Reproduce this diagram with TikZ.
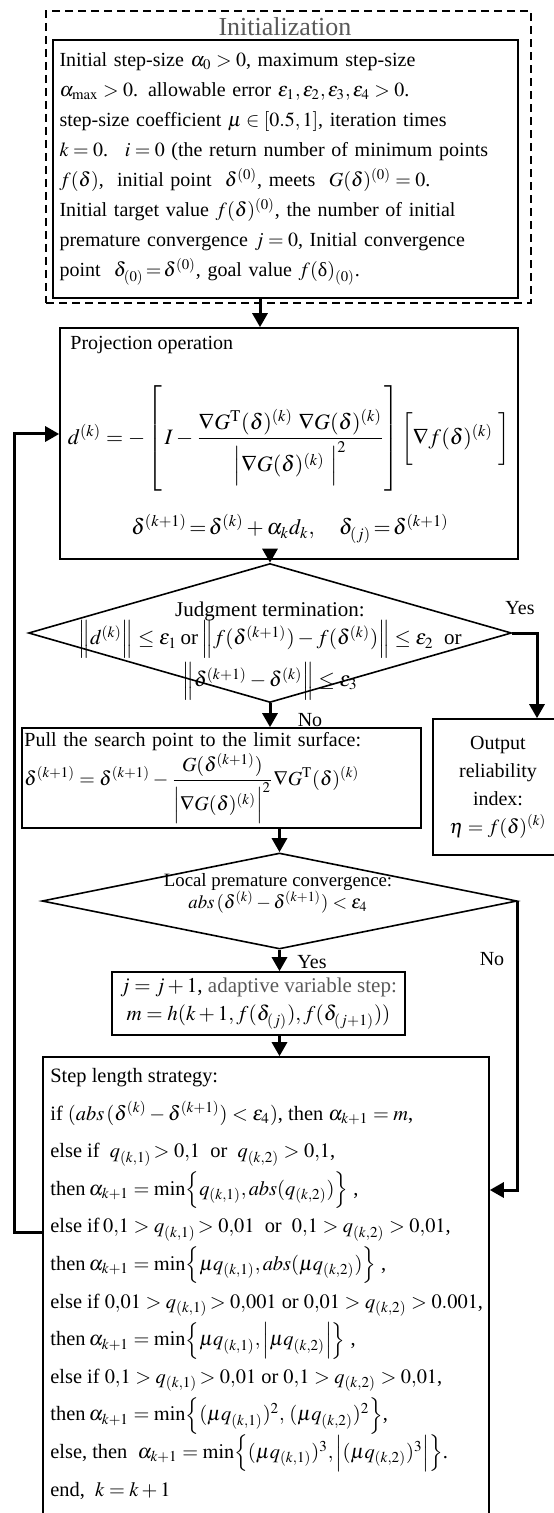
\documentclass[tikz,border=0pt]{standalone}
\usepackage{amsmath}
\usepackage{mathptmx}
\usepackage{fontspec}
\setmainfont{Liberation Serif}
\usepackage{xcolor}
\usepackage{tikz}
\usetikzlibrary{arrows.meta,shapes.geometric}
\definecolor{labelgray}{RGB}{88,88,88}

\begin{document}
\begin{tikzpicture}[
    x=0.5pt, y=-0.5pt,
    font=\fontsize{10}{12}\selectfont,
    box/.style={draw, line width=0.8pt, inner sep=0pt},
    decision/.style={draw, diamond, line width=0.8pt, inner sep=0pt},
    note/.style={inner sep=0pt},
    arrow/.style={-{Triangle[length=7pt,width=7.5pt]}, line width=1.5pt}
  ]
    \useasboundingbox (0,0) rectangle (553,1513);
    \node[box, dash pattern=on 4pt off 2.5pt, line width=1.1pt, minimum width=242.5pt, minimum height=146pt] (init) at (288.5,157) {};
    \node[note, font=\fontsize{13}{15}\selectfont, text=labelgray] (title) at (285,27) {Initialization};
    \node[box, line width=1pt, minimum width=232.5pt, minimum height=129pt, text width=226pt, align=left, font=\fontsize{10}{15}\selectfont] (setup) at (285.5,169) {Initial step-size $\alpha_0>0$, maximum step-size\\
      $\alpha_{\max}>0$. allowable error $\varepsilon_1,\varepsilon_2,\varepsilon_3,\varepsilon_4>0$.\\
      step-size coefficient $\mu\in[0.5,1]$, iteration times\\
      $k=0$. \ $i=0$ (the return number of minimum points\\
      $f(\delta)$, \ initial point \ $\delta^{(0)}$, meets \ $G(\delta)^{(0)}=0$.\\
      Initial target value $f(\delta)^{(0)}$, the number of initial\\
      premature convergence $j=0$, Initial convergence\\
      point \ $\delta_{(0)}\!=\!\delta^{(0)}$, goal value $f(\text{δ})_{(0)}$.};
    \node[box, minimum width=229pt, minimum height=115.5pt] (proj) at (289,443.5) {};
    \node[note, anchor=west] (projtitle) at (70,345) {Projection operation};
    \node[note, font=\fontsize{11}{13}\selectfont] (projeq) at (289,440) {$d^{(k)}=-\left[\rule[-25pt]{0pt}{53pt}\,I-\dfrac{\nabla G^{\mathrm T}(\delta)^{(k)}\ \nabla G(\delta)^{(k)}}{\Bigl|\nabla G(\delta)^{(k)}\ \Bigr|^2}\right]\left[\rule[-8pt]{0pt}{22pt}\nabla f(\delta)^{(k)}\ \right]$};
    \node[note, font=\fontsize{11}{13}\selectfont] (projupd) at (290,529) {$\delta^{(k+1)}\!=\!\delta^{(k)}+\alpha_k d_k,\quad \delta_{(j)}\!=\!\delta^{(k+1)}$};
    \node[decision, minimum width=241.5pt, minimum height=69.5pt] (judge) at (270,633) {};
    \node[note, align=center, font=\fontsize{10.5}{12.5}\selectfont] (judgetxt) at (270,651) {\lineskiplimit=-20pt Judgment termination:\\[-1pt]
      $\Bigl\|d^{(k)}\Bigr\|\le\varepsilon_1$\,or\,$\Bigl\|f(\delta^{(k+1)})-f(\delta^{(k)})\Bigr\|\le\varepsilon_2$ \ or\\[1pt]
      $\Bigl\|\delta^{(k+1)}-\delta^{(k)}\Bigr\|\le\varepsilon_3$};
    \node[box, minimum width=199.5pt, minimum height=50pt, text width=197pt, align=left] (pull) at (221.5,778) {Pull the search point to the limit surface:\\
      $\delta^{(k+1)}=\delta^{(k+1)}-\dfrac{G(\delta^{(k+1)})}{\Bigl|\nabla G(\delta)^{(k)}\Bigr|^2}\nabla G^{\mathrm T}(\delta)^{(k)}$};
    \node[box, minimum width=65pt, minimum height=68pt, align=center, font=\fontsize{10}{14}\selectfont] (result) at (498,787) {Output\\reliability\\index:\\$\eta=f(\delta)^{(k)}$};
    \node[decision, minimum width=237.5pt, minimum height=48pt] (local) at (279.5,901) {};
    \node[note, align=center, font=\fontsize{9.4}{11}\selectfont] (localtxt) at (278,893) {Local premature convergence:\\
      $abs\,(\delta^{(k)}-\delta^{(k+1)})<\varepsilon_4$};
    \node[box, minimum width=146.5pt, minimum height=31.5pt, align=center, font=\fontsize{10.5}{14}\selectfont] (adapt) at (258.5,1003.5) {$j=j+1$, \textcolor{labelgray}{adaptive variable step:}\\
      $m=h(k+1,f(\delta_{(j)}),f(\delta_{(j+1)}))$};
    \node[box, minimum width=223pt, minimum height=236.5pt] (strategy) at (266,1293.5) {};
    \node[note, anchor=north west, align=left, font=\fontsize{10.2}{18.8}\selectfont] (strattxt) at (50,1068) {\lineskiplimit=-20pt Step length strategy:\\
      if $(abs\,(\delta^{(k)}-\delta^{(k+1)})<\varepsilon_4)$, then $\alpha_{k+1}=m$,\\
      else if \ $q_{(k,1)}\!>0{,}1$ \ or \ $q_{(k,2)}>0{,}1$,\\
      then\,$\alpha_{k+1}=\min\Bigl\{q_{(k,1)},abs(q_{(k,2)})\Bigr\}$ ,\\
      else if\,$0{,}1>q_{(k,1)}\!>0{,}01$ \ or \ $0{,}1>q_{(k,2)}>0{,}01$,\\
      then\,$\alpha_{k+1}=\min\Bigl\{\mu q_{(k,1)},abs(\mu q_{(k,2)})\Bigr\}$ ,\\
      else if $0{,}01>q_{(k,1)}\!>0{,}001$ or $0{,}01>q_{(k,2)}>0.001$,\\
      then\,$\alpha_{k+1}=\min\Bigl\{\mu q_{(k,1)},\Bigl|\mu q_{(k,2)}\Bigr|\Bigr\}$ ,\\
      else if $0{,}1>q_{(k,1)}\!>0{,}01$ or $0{,}1>q_{(k,2)}>0{,}01$,\\
      then\,$\alpha_{k+1}=\min\Bigl\{(\mu q_{(k,1)})^2,\,(\mu q_{(k,2)})^2\Bigr\}$,\\
      else, then \ $\alpha_{k+1}=\min\Bigl\{(\mu q_{(k,1)})^3,\Bigl|(\mu q_{(k,2)})^3\Bigr|\Bigr\}$.\\
      end, \ $k=k+1$};
    \node[note] (yeslbl) at (520,608) {Yes};
    \node[note] (nolbl) at (310,720) {No};
    \node[note] (yesconv) at (312,962) {Yes};
    \node[note] (noconv) at (492,959) {No};
    \coordinate (col) at (260,300);
    \draw[arrow] (col |- setup.south) -- (col |- proj.north);
    \draw[arrow] (proj.south -| judge.north) -- (judge.north);
    \draw[arrow] (judge.east) -| ([xshift=19.5pt]result.north);
    \draw[arrow] (judge.south) -- (judge.south |- pull.north);
    \draw[arrow] (pull.south -| local.north) -- (local.north);
    \draw[arrow] (local.south) -- (local.south |- adapt.north);
    \draw[arrow] (local.south |- adapt.south) -- (local.south |- strategy.north);
    \draw[arrow] (local.east) |- ([yshift=51.75pt]strategy.east);
    \draw[arrow] ([yshift=30.75pt]strategy.west) -- ++(-14pt,0) |- ([yshift=4.75pt]proj.west);
  \end{tikzpicture}
\end{document}
